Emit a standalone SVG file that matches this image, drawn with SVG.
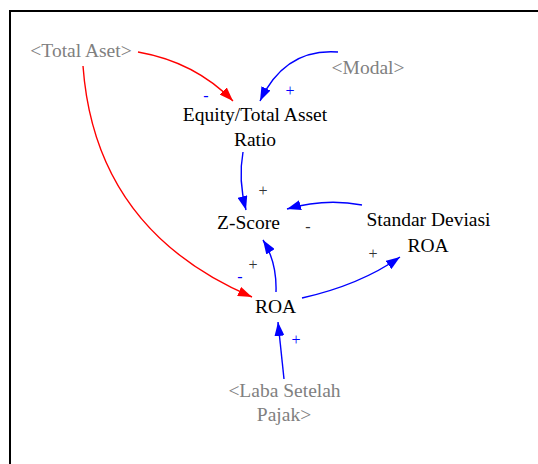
<svg xmlns="http://www.w3.org/2000/svg" width="538" height="464" viewBox="0 0 538 464">
<defs>
<marker id="ab" viewBox="0 0 14 10" refX="14" refY="5" markerWidth="14" markerHeight="10" markerUnits="userSpaceOnUse" orient="auto"><path d="M0,0 L14,5 L0,10 Z" fill="#0000ff"/></marker>
<marker id="ar" viewBox="0 0 14 10" refX="14" refY="5" markerWidth="14" markerHeight="10" markerUnits="userSpaceOnUse" orient="auto"><path d="M0,0 L14,5 L0,10 Z" fill="#ff0000"/></marker>
</defs>
<style>
text{font-size:19.5px;text-anchor:middle}
.n{fill:#000}
.g{fill:#808080}
.b{fill:none;stroke:#0000ff;stroke-width:1.4}
.r{fill:none;stroke:#ff0000;stroke-width:1.4}
.pb{fill:#0000ff;font-size:16px}
.pk{fill:#333;font-size:16px}
</style>
<rect x="10" y="11" width="540" height="470" fill="#fff" stroke="#000" stroke-width="2"/>
<g font-family="'Liberation Serif', 'Times New Roman', 'DejaVu Serif', serif">
<g id="connectors">
<path class="r" d="M138,52 Q195,62 233,101" marker-end="url(#ar)"/>
<path class="b" d="M338,52 Q285,48 260,101" marker-end="url(#ab)"/>
<path class="r" d="M83,66 Q95,230 252,297" marker-end="url(#ar)"/>
<path class="b" d="M243,152 Q238,180 246,210" marker-end="url(#ab)"/>
<path class="b" d="M362,205 Q325,198 287,209" marker-end="url(#ab)"/>
<path class="b" d="M276,292 Q277,262 263,240" marker-end="url(#ab)"/>
<path class="b" d="M302,298 Q360,285 400,257" marker-end="url(#ab)"/>
<path class="b" d="M284,379 L278,322" marker-end="url(#ab)"/>
<text class="pb" x="290" y="96">+</text>
<text class="pb" x="206" y="101">-</text>
<text class="pk" x="263" y="196">+</text>
<text class="pk" x="308" y="232">-</text>
<text class="pk" x="253" y="270">+</text>
<text class="pb" x="240" y="282">-</text>
<text class="pk" x="373" y="259">+</text>
<text class="pb" x="296" y="345">+</text>
</g>
<g id="total-aset"><text class="g" x="81" y="57">&lt;Total Aset&gt;</text></g>
<g id="modal"><text class="g" x="368" y="74">&lt;Modal&gt;</text></g>
<g id="equity-ratio"><text class="n" x="255" y="121">Equity/Total Asset</text><text class="n" x="255" y="146">Ratio</text></g>
<g id="z-score"><text class="n" x="248.5" y="229">Z-Score</text></g>
<g id="standar-deviasi"><text class="n" x="428.5" y="226">Standar Deviasi</text><text class="n" x="428" y="252">ROA</text></g>
<g id="roa"><text class="n" x="275.5" y="313">ROA</text></g>
<g id="laba"><text class="g" x="284.5" y="397">&lt;Laba Setelah</text><text class="g" x="284" y="421">Pajak&gt;</text></g>
</g>
</svg>
